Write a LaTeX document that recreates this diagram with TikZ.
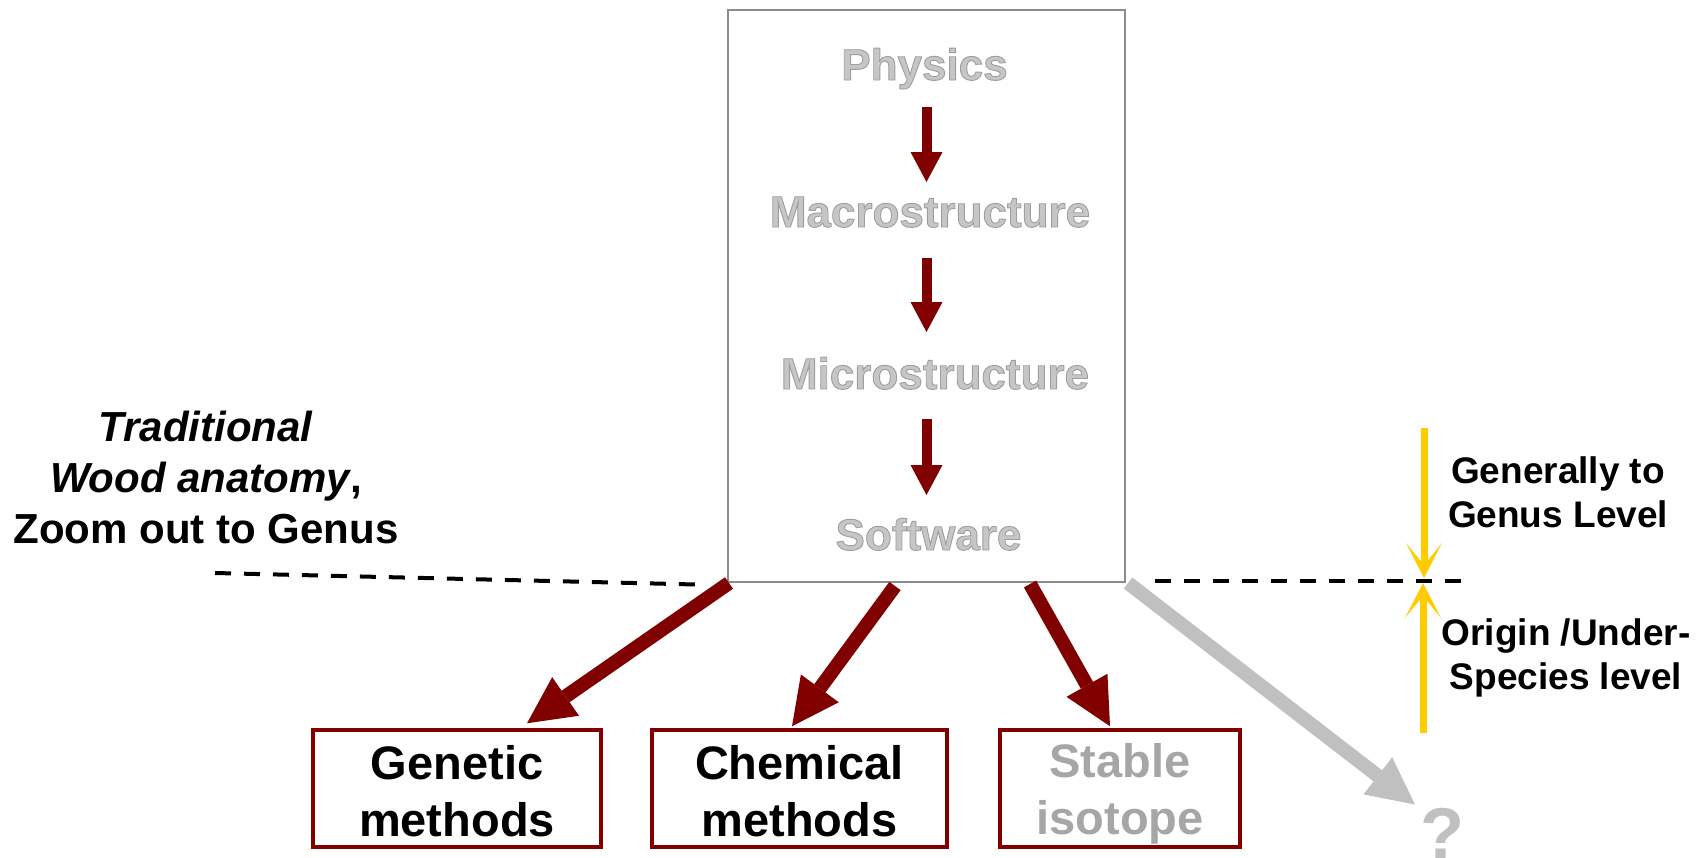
\documentclass[tikz,border=0pt]{standalone}
\usepackage{fontspec}
\setmainfont{Liberation Sans}
\usetikzlibrary{arrows.meta,calc}

\definecolor{wine}{RGB}{128,0,0}
\definecolor{framegray}{RGB}{140,140,140}
\definecolor{ghost}{RGB}{198,198,198}
\definecolor{mute}{RGB}{166,166,166}
\definecolor{pale}{RGB}{192,192,192}
\definecolor{gold}{RGB}{255,204,0}

% light grey lettering with a thin darker outline
\newcommand\embossed[1]{\special{pdf:literal direct 2 Tr 0.9 w 0.62 0.62 0.62 RG}#1\special{pdf:literal direct 0 Tr}}
% taller first line, so the two lines sit a little lower in their box
\newcommand\lowstrut[1]{\rule{0pt}{#1}}

\tikzset{
  stepword/.style={font=\fontsize{44}{50}\selectfont\bfseries, text=ghost, inner sep=0pt, anchor=base},
  stepflow/.style={draw=wine, line width=10pt, -{Triangle[length=30pt,width=32pt,line width=0pt]}},
  flow/.style={draw=wine, line width=14pt, -{Triangle[length=47pt,width=47pt,line width=0pt]}},
  method/.style={draw=wine, line width=3.5pt, minimum height=117pt, inner sep=0pt,
    font=\fontsize{47}{57}\selectfont\bfseries, align=center},
  note/.style={inner sep=0pt, anchor=north, align=center},
  guide/.style={draw=black, line width=4pt, dash pattern=on 16pt off 13pt},
  rank/.style={draw=gold, line width=7pt, -{Stealth[length=35pt,width=36pt,inset=22pt,line width=0pt]}},
}

\begin{document}
\begin{tikzpicture}[x=1pt,y=-1pt]
  \useasboundingbox (0,0) rectangle (1705,857);

  % central chain of identification steps
  \node[draw=framegray, line width=2pt, minimum width=397pt, minimum height=572pt] (main) at (926.5,296) {};
  \node[stepword] (phys)  at (924.5,80)  {\embossed{Physics}};
  \node[stepword] (macro) at (930,227)   {\embossed{Macrostructure}};
  \node[stepword] (micro) at (935,389)   {\embossed{Microstructure}};
  \node[stepword] (soft)  at (928.5,550) {\embossed{Software}};

  \draw[stepflow] ($(phys.base -| main.center)+(0,27)$)  -- ($(macro.base -| main.center)+(0,-45)$);
  \draw[stepflow] ($(macro.base -| main.center)+(0,31)$) -- ($(micro.base -| main.center)+(0,-57)$);
  \draw[stepflow] ($(micro.base -| main.center)+(0,30)$) -- ($(soft.base -| main.center)+(0,-55)$);

  % side notes
  \node[note, font=\fontsize{42}{51}\selectfont\bfseries] (trad) at (206,410.5)
    {\textit{Traditional}\\\textit{Wood anatomy},\\Zoom out to Genus};
  \node[note, font=\fontsize{37}{44}\selectfont\bfseries] (genus) at (1558,456)
    {Generally to\\Genus Level};
  \node[note, font=\fontsize{37}{44}\selectfont\bfseries] (origin) at (1566,618.5)
    {Origin /Under-\\Species level};

  % finer methods
  \node[method, minimum width=288pt] (gen)  at (457,788.5)   {\lowstrut{38.5pt}Genetic\\methods};
  \node[method, minimum width=295pt] (chem) at (799.5,788.5) {\lowstrut{38.5pt}Chemical\\methods};
  \node[method, minimum width=240pt, text=mute] (stab) at (1120,788.5) {\lowstrut{45pt}Stable\\isotope};
  \node[inner sep=0pt, anchor=base, text=pale, font=\fontsize{72}{80}\selectfont\bfseries] (q) at (1442,858) {?};

  \draw[flow] ($(main.south west)+(2,0)$) -- ($(gen.north)+(70,-5)$);
  \draw[flow] ($(main.south)+(-31.5,3)$) -- ($(chem.north)+(-7.5,-2)$);
  \draw[flow] ($(main.south)+(103.5,1)$) -- ($(stab.north)+(-10,-2)$);
  \draw[flow, draw=pale] ($(main.south east)+(2,0)$) -- ($(q.north)+(-27,-3)$);

  % genus threshold
  \coordinate (dl) at (215,573);
  \coordinate (dr) at (1463,581);
  \draw[guide] (dl) -- ($(main.south west)+(-31,1.5)$);
  \draw[guide] ($(main.south east)+(29,-2)$) -- (dr);

  \coordinate (gtop) at (1424,428);
  \coordinate (gbot) at (1423,733);
  \draw[rank] (gtop) -- ($(dr -| gtop)+(0,-3)$);
  \draw[rank] (gbot) -- ($(dr -| gbot)+(0,2)$);
\end{tikzpicture}
\end{document}
